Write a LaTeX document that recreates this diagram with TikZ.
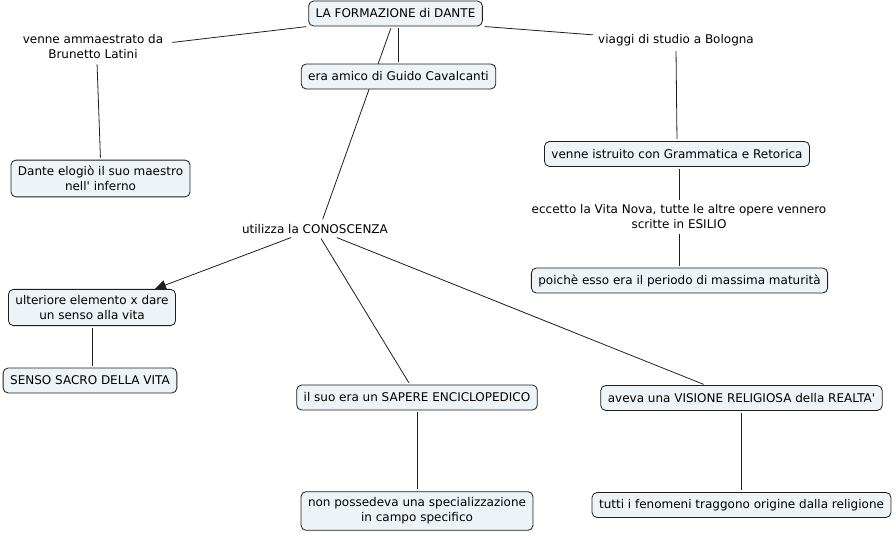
\documentclass[tikz,border=0pt]{standalone}
\usepackage{fontspec}
\setmainfont{DejaVu Sans}
\usetikzlibrary{arrows.meta}
\definecolor{boxfill}{RGB}{237,243,246}
\definecolor{lnk}{RGB}{30,30,30}
\pgfdeclarelayer{bg}
\pgfsetlayers{bg,main}
\begin{document}
\begin{tikzpicture}[x=1pt,y=-1pt,
  font=\fontsize{12}{15}\selectfont,
  cbox/.style={draw=lnk, line width=0.8pt, fill=boxfill, rounded corners=5pt,
    inner xsep=7pt, inner ysep=6pt, minimum height=25pt, align=center},
  ctext/.style={inner sep=3pt, align=center},
  link/.style={draw=lnk, line width=0.8pt, shorten <=2pt, shorten >=2pt}]
\useasboundingbox (0,0) rectangle (896,535);

\node[cbox] (form) at (395.5,13.5) {LA FORMAZIONE di DANTE};
\node[ctext] (ven) at (93,47) {venne ammaestrato da\\Brunetto Latini};
\node[cbox] (amico) at (398.5,76.5) {era amico di Guido Cavalcanti};
\node[ctext] (viag) at (676,40) {viaggi di studio a Bologna};
\node[cbox] (dante) at (100.5,178.5) {Dante elogiò il suo maestro\\nell\textquotesingle{} inferno};
\node[cbox] (istr) at (677,154) {venne istruito con Grammatica e Retorica};
\node[ctext] (ecc) at (679,217) {eccetto la Vita Nova, tutte le altre opere vennero\\scritte in ESILIO};
\node[ctext] (util) at (315,229) {utilizza la CONOSCENZA};
\node[cbox] (poi) at (679.5,280.5) {poichè esso era il periodo di massima maturità};
\node[cbox] (ult) at (92,307.5) {ulteriore elemento x dare\\un senso alla vita};
\node[cbox] (senso) at (90,380.5) {SENSO SACRO DELLA VITA};
\node[cbox] (sap) at (417,397.5) {il suo era un SAPERE ENCICLOPEDICO};
\node[cbox] (vis) at (741.5,398) {aveva una VISIONE RELIGIOSA della REALTA\textquotesingle};
\node[cbox] (nonp) at (417,511) {non possedeva una specializzazione\\in campo specifico};
\node[cbox] (tutti) at (741.5,505) {tutti i fenomeni traggono origine dalla religione};

\begin{pgfonlayer}{bg}
\draw[link] (form.south west) -- ([shift={(4,11)}]ven.north east);
\draw[link] (form.south east) -- ([shift={(0,-5)}]viag.west);
\draw[link] (form.south -| amico.north) -- (amico.north);
\draw[link] ([xshift=-4pt]form.south) -- ([xshift=7pt]util.north);
\draw[link] ([xshift=4pt]ven.south) -- (dante.north);
\draw[link] (viag.south) -- (istr.north);
\draw[link] (istr.south -| ecc.north) -- (ecc.north);
\draw[link] (ecc.south) -- (ecc.south |- poi.north);
\draw[link, shorten >=0pt, -{Triangle[length=11pt,width=10pt]}] ([xshift=-22pt]util.south) -- ([xshift=63pt]ult.north);
\draw[link] (ult.south) -- (ult.south |- senso.north);
\draw[link] ([xshift=5pt]util.south) -- ([xshift=-7pt]sap.north);
\draw[link] ([xshift=20pt]util.south) -- ([xshift=-36pt]vis.north);
\draw[link] (sap.south) -- (nonp.north);
\draw[link] (vis.south) -- (tutti.north);
\end{pgfonlayer}
\end{tikzpicture}
\end{document}
